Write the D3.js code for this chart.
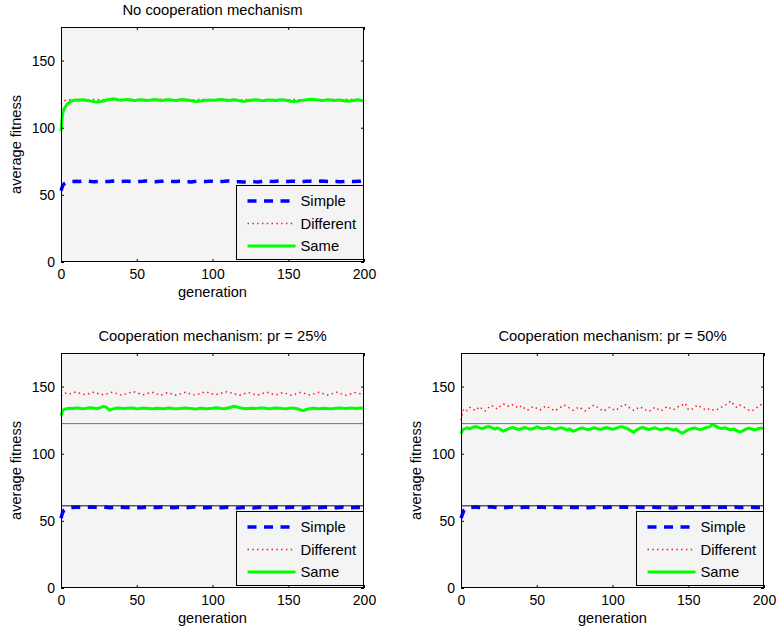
<!DOCTYPE html>
<html>
<head>
<meta charset="utf-8">
<script src="https://cdn.jsdelivr.net/npm/d3@7"></script>
<style>
  body { margin: 0; background: #fff; }
  svg { display: block; font-family: "Liberation Sans", Arial, Helvetica, sans-serif; }
  .tick text { font-size: 14px; fill: #000; }
  .tick line { stroke: #000; }
</style>
</head>
<body>
<div id="chart"></div>
<script>
// generation index of every sample
const gens = [0, 1, 2, 4, 6, 8, 10, 12, 14, 16, 18, 20, 22, 24, 26, 28, 30, 32, 34, 36,
  38, 40, 42, 44, 46, 48, 50, 52, 54, 56, 58, 60, 62, 64, 66, 68, 70, 72, 74, 76,
  78, 80, 82, 84, 86, 88, 90, 92, 94, 96, 98, 100, 102, 104, 106, 108, 110, 112, 114, 116,
  118, 120, 122, 124, 126, 128, 130, 132, 134, 136, 138, 140, 142, 144, 146, 148, 150, 152, 154, 156,
  158, 160, 162, 164, 166, 168, 170, 172, 174, 176, 178, 180, 182, 184, 186, 188, 190, 192, 194, 196,
  198, 200];

const seriesNames = ['Simple', 'Different', 'Same'];
const titles = ['No cooperation mechanism', 'Cooperation mechanism: pr = 25%', 'Cooperation mechanism: pr = 50%'];
const xTicks = [0, 50, 100, 150, 200];
const yTicks = [0, 50, 100, 150];

// no cooperation
const simple0 = [53.0, 56.5, 58.2, 59.4, 59.8, 60.0, 60.1, 59.9, 60.2, 60.3,
  60.1, 59.9, 59.8, 60.0, 60.2, 60.1, 59.9, 60.0, 60.3, 60.1,
  59.8, 59.9, 60.1, 60.2, 60.0, 59.7, 59.8, 60.0, 60.1, 60.3,
  60.2, 59.9, 59.8, 60.0, 60.1, 60.2, 60.4, 60.1, 59.9, 60.0,
  60.2, 60.3, 60.0, 59.8, 59.6, 59.9, 60.1, 60.2, 60.0, 59.9,
  60.1, 60.2, 60.0, 59.8, 60.0, 60.1, 60.3, 60.2, 59.9, 59.7,
  59.8, 59.6, 59.5, 59.8, 60.0, 59.7, 59.6, 59.9, 60.2, 60.3,
  60.1, 60.0, 60.2, 60.3, 60.1, 59.9, 60.0, 60.2, 60.1, 59.8,
  59.7, 59.9, 60.1, 60.2, 60.0, 59.9, 60.1, 60.3, 60.2, 60.0,
  59.9, 60.1, 60.0, 59.8, 59.9, 60.1, 60.2, 60.0, 59.9, 60.1,
  60.2, 60.0];
const different0 = [117.6, 119.1, 120.1, 120.6, 120.9, 121.1, 120.8, 121.0, 121.2, 120.9,
  120.6, 120.8, 121.1, 121.0, 120.7, 120.9, 121.2, 121.1, 120.8, 120.6,
  120.9, 121.0, 120.8, 121.1, 121.3, 120.9, 120.7, 120.8, 121.0, 121.1,
  120.9, 120.6, 120.8, 121.0, 121.2, 120.9, 120.8, 121.1, 121.0, 120.7,
  120.6, 120.9, 121.2, 121.0, 120.8, 120.7, 120.9, 121.1, 121.0, 120.8,
  120.6, 120.7, 121.0, 121.2, 120.9, 120.8, 121.0, 121.1, 120.9, 120.6,
  120.5, 120.8, 121.0, 120.9, 121.1, 121.2, 120.8, 120.7, 120.9, 121.0,
  120.8, 120.6, 120.9, 121.1, 121.2, 121.0, 120.8, 120.9, 121.1, 120.9,
  120.7, 120.8, 121.0, 121.3, 121.1, 120.9, 120.6, 120.8, 121.0, 120.9,
  121.1, 121.2, 121.0, 120.8, 120.7, 120.9, 121.2, 121.1, 120.8, 120.6,
  120.8, 121.0];
const same0 = [97.5, 110.0, 114.0, 117.5, 119.2, 120.3, 120.6, 120.4, 120.8, 120.5,
  120.2, 119.8, 119.4, 119.2, 119.5, 119.9, 120.6, 121.0, 121.5, 121.2,
  120.7, 120.4, 120.9, 121.1, 120.6, 120.3, 120.5, 120.8, 120.6, 120.2,
  120.4, 120.7, 121.0, 120.6, 120.3, 120.5, 120.8, 120.9, 120.5, 120.3,
  120.6, 121.0, 120.7, 120.4, 120.1, 119.7, 119.5, 119.8, 120.2, 120.5,
  120.7, 120.4, 120.6, 120.9, 121.1, 120.7, 120.3, 120.5, 120.8, 120.4,
  120.0, 119.6, 119.8, 120.2, 120.5, 120.8, 120.6, 120.3, 120.1, 120.4,
  120.7, 120.5, 120.2, 120.6, 120.9, 120.5, 120.1, 119.7, 119.5, 119.8,
  120.2, 120.5, 120.8, 121.0, 121.2, 120.9, 120.6, 120.3, 120.5, 120.8,
  120.6, 120.2, 120.4, 120.7, 120.3, 119.9, 119.7, 120.1, 120.5, 120.8,
  120.3, 120.0];

// pr = 25%
const simple25 = [52.0, 56.0, 58.0, 59.3, 59.8, 60.0, 60.2, 60.1, 59.9, 60.0,
  60.2, 60.3, 60.1, 59.9, 60.0, 60.2, 60.1, 59.8, 59.9, 60.1,
  60.3, 60.2, 60.0, 59.9, 60.1, 60.2, 60.0, 59.8, 59.9, 60.1,
  60.2, 60.1, 59.9, 60.0, 60.2, 60.3, 60.1, 60.0, 59.8, 59.9,
  60.1, 60.2, 60.0, 59.9, 60.1, 60.3, 60.2, 60.0, 59.8, 59.7,
  59.9, 60.1, 60.2, 60.0, 59.8, 59.9, 60.1, 60.0, 59.8, 59.6,
  59.7, 59.9, 60.0, 59.8, 59.6, 59.7, 59.9, 60.1, 59.9, 59.7,
  59.8, 60.0, 60.1, 59.9, 59.7, 59.8, 60.0, 60.2, 60.1, 59.9,
  59.7, 59.6, 59.8, 60.0, 60.1, 59.9, 59.8, 60.0, 60.2, 60.1,
  59.9, 59.7, 59.8, 60.0, 60.1, 59.9, 59.7, 59.8, 60.0, 60.1,
  59.9, 60.0];
const different25 = [143.0, 144.0, 144.8, 145.3, 144.6, 145.5, 146.0, 145.2, 144.3, 144.0,
  144.6, 145.4, 145.8, 145.0, 144.2, 143.8, 144.5, 145.3, 145.9, 145.1,
  144.4, 143.6, 144.2, 145.0, 145.6, 146.1, 145.4, 144.6, 143.9, 144.3,
  145.2, 145.8, 145.1, 144.2, 143.7, 144.5, 145.4, 145.0, 144.1, 143.5,
  144.3, 145.1, 145.7, 145.2, 144.4, 143.8, 144.0, 144.9, 145.6, 146.0,
  145.3, 144.5, 143.9, 144.4, 145.2, 145.9, 146.2, 145.4, 144.7, 144.0,
  143.6, 144.3, 145.1, 145.5, 144.8, 144.1, 143.7, 144.4, 145.3, 145.8,
  145.1, 144.3, 143.9, 144.6, 145.4, 145.0, 144.2, 143.6, 144.1, 144.9,
  145.6, 145.2, 144.5, 143.8, 144.2, 145.0, 145.7, 145.3, 144.4, 143.7,
  144.3, 145.1, 145.8, 145.0, 144.2, 143.5, 144.0, 144.8, 145.5, 145.1,
  144.6, 145.3];
const same25 = [128.5, 131.5, 133.0, 133.6, 133.9, 133.7, 134.0, 133.8, 133.5, 133.7,
  134.0, 134.2, 133.8, 133.6, 134.3, 135.2, 134.6, 132.4, 133.2, 133.9,
  134.1, 133.8, 133.6, 133.9, 134.1, 133.8, 133.5, 133.7, 134.0, 133.8,
  133.6, 133.4, 133.7, 133.9, 133.6, 133.5, 133.8, 134.0, 133.7, 133.5,
  133.6, 133.9, 134.1, 133.8, 133.6, 133.3, 133.5, 133.8, 133.6, 133.4,
  133.7, 133.9, 134.2, 134.0, 133.7, 133.5, 134.0, 134.6, 135.3, 134.8,
  134.2, 133.8, 133.5, 133.7, 133.9, 133.6, 133.8, 134.1, 134.0, 133.7,
  133.5, 133.8, 134.0, 133.9, 133.6, 133.4, 133.7, 134.0, 133.8, 133.5,
  132.6, 132.1, 132.9, 133.5, 133.8, 133.6, 133.4, 133.7, 133.9, 133.6,
  133.4, 133.6, 133.9, 134.1, 133.8, 133.6, 133.8, 134.0, 133.7, 133.9,
  134.0, 133.7];

// pr = 50%
const simple50 = [52.0, 55.0, 58.0, 59.5, 59.9, 60.1, 60.3, 60.0, 59.8, 60.1,
  60.3, 60.4, 60.1, 59.9, 59.6, 59.8, 60.0, 60.2, 60.3, 60.1,
  59.9, 60.0, 60.2, 60.1, 59.9, 60.0, 60.2, 60.3, 60.1, 59.9,
  60.0, 60.1, 60.2, 60.0, 59.9, 60.1, 60.3, 60.2, 60.0, 59.9,
  60.1, 60.2, 60.0, 59.8, 59.9, 60.1, 60.2, 60.0, 59.9, 60.0,
  60.2, 60.1, 59.9, 60.0, 60.2, 60.3, 60.1, 60.0, 59.9, 60.1,
  60.2, 60.0, 59.8, 59.9, 60.1, 60.2, 60.0, 59.9, 60.0, 60.1,
  59.8, 59.6, 59.9, 60.1, 60.2, 60.0, 59.9, 60.1, 60.2, 60.0,
  59.9, 60.1, 60.3, 60.2, 60.0, 59.9, 60.0, 60.2, 60.1, 59.9,
  60.0, 60.1, 60.2, 60.0, 59.9, 60.0, 60.2, 60.1, 60.0, 59.9,
  60.0, 60.1];
const different50 = [125.0, 131.0, 133.5, 132.0, 134.5, 133.0, 132.2, 135.0, 133.4, 131.8,
  134.2, 136.0, 134.8, 133.2, 135.5, 137.0, 136.2, 135.0, 136.5, 135.3,
  134.0, 135.8, 133.6, 132.4, 134.0, 135.2, 133.8, 132.5, 133.9, 135.6,
  134.3, 133.0, 131.8, 133.5, 134.8, 136.3, 135.1, 133.7, 132.3, 133.6,
  134.9, 133.2, 131.9, 133.4, 135.0, 136.4, 134.6, 133.1, 131.7, 133.0,
  134.5, 133.3, 132.1, 133.8, 135.5, 136.8, 135.2, 133.6, 132.2, 133.5,
  135.0, 133.8, 132.5, 131.4, 132.9, 134.6, 133.2, 131.9, 133.4, 135.1,
  134.0, 132.6, 133.9, 135.7, 136.2, 137.6, 133.0, 132.7, 134.4, 136.2,
  134.9, 133.5, 132.4, 133.6, 132.8, 132.3, 133.4, 134.8, 136.0, 137.2,
  139.3, 136.5, 134.6, 136.3, 135.1, 133.7, 132.5, 131.9, 133.2, 135.0,
  136.5, 137.4];
const same50 = [115.0, 117.2, 118.5, 119.3, 118.6, 119.8, 120.2, 119.4, 118.7, 119.5,
  120.3, 119.6, 118.4, 119.2, 118.2, 116.8, 117.9, 118.9, 119.6, 118.8,
  118.0, 118.7, 119.5, 118.9, 118.2, 118.8, 120.0, 119.3, 118.5, 119.0,
  119.6, 118.8, 118.1, 118.7, 119.4, 118.6, 117.8, 118.4, 116.8, 117.5,
  118.6, 119.2, 118.5, 117.9, 118.6, 119.3, 118.7, 118.1, 118.8, 119.5,
  118.9, 118.2, 118.8, 119.6, 120.2, 119.4, 118.6, 117.2, 115.9, 117.8,
  119.0, 119.6, 118.8, 118.0, 118.7, 119.3, 118.5, 117.8, 118.4, 119.1,
  118.4, 117.6, 118.2, 116.5, 115.2, 116.6, 117.9, 118.6, 119.2, 118.5,
  117.9, 118.7, 119.5, 120.0, 121.8, 120.6, 119.4, 118.7, 119.3, 118.6,
  117.8, 118.5, 117.2, 116.1, 117.0, 118.3, 119.0, 118.4, 117.7, 118.6,
  119.2, 118.4];

// horizontal reference levels drawn in the cooperation panels
const refLevels = [122.4, 61.2];
const refColors = ['#6e6e6e', '#111'];

const panels = [
  { title: titles[0], series: [simple0, different0, same0], refs: [] },
  { title: titles[1], series: [simple25, different25, same25], refs: refLevels },
  { title: titles[2], series: [simple50, different50, same50], refs: refLevels },
];

const layout = [
  { left: 61, top: 27 },
  { left: 61, top: 353 },
  { left: 461, top: 353 },
];
const plotW = 303, plotH = 235;

const styles = [
  { color: '#0000ff', width: 3.5, dash: '9,7.5' },
  { color: '#ff1a1a', width: 1.5, dash: '1.5,3.3' },
  { color: '#00ff00', width: 3, dash: null },
];

const svg = d3.select('#chart').append('svg')
  .attr('width', 776)
  .attr('height', 630);

panels.forEach((p, k) => {
  const { left, top } = layout[k];
  const x = d3.scaleLinear().domain([0, 200]).range([left, left + plotW]);
  const y = d3.scaleLinear().domain([0, 175]).range([top + plotH, top]);
  const g = svg.append('g');

  g.append('rect')
    .attr('x', left).attr('y', top)
    .attr('width', plotW).attr('height', plotH)
    .attr('fill', '#f4f4f4');

  const line = d3.line()
    .x((d, i) => x(gens[i]))
    .y(d => y(d));

  p.series.forEach((s, j) => {
    const st = styles[j];
    g.append('path')
      .datum(s)
      .attr('d', line)
      .attr('fill', 'none')
      .attr('stroke', st.color)
      .attr('stroke-width', st.width)
      .attr('stroke-dasharray', st.dash)
      .attr('stroke-linejoin', 'round');
  });

  g.selectAll('line.ref')
    .data(p.refs)
    .enter()
    .append('line')
    .attr('class', 'ref')
    .attr('x1', x(0)).attr('x2', x(200))
    .attr('y1', d => y(d)).attr('y2', d => y(d))
    .attr('stroke', (d, i) => refColors[i])
    .attr('stroke-width', 1);

  // axes, ticks pointing inward
  const xAxis = d3.axisBottom(x).tickValues(xTicks).tickSize(-3).tickPadding(7);
  const yAxis = d3.axisLeft(y).tickValues(yTicks).tickSize(-3).tickPadding(6);
  g.append('g').attr('transform', `translate(0,${top + plotH})`).call(xAxis);
  g.append('g').attr('transform', `translate(${left},0)`).call(yAxis);
  g.append('g').attr('transform', `translate(0,${top})`)
    .call(d3.axisTop(x).tickValues(xTicks).tickSize(-3).tickFormat(''));
  g.append('g').attr('transform', `translate(${left + plotW},0)`)
    .call(d3.axisRight(y).tickValues(yTicks).tickSize(-3).tickFormat(''));
  g.selectAll('.domain').remove();

  g.append('rect')
    .attr('x', left + 0.5).attr('y', top + 0.5)
    .attr('width', plotW - 1).attr('height', plotH - 1)
    .attr('fill', 'none')
    .attr('stroke', '#000');

  // legend
  const lx = left + 175.5, ly = top + plotH - 76.5;
  const leg = g.append('g').attr('transform', `translate(${lx},${ly})`);
  leg.append('rect')
    .attr('width', 127).attr('height', 74)
    .attr('fill', '#f4f4f4')
    .attr('stroke', '#000');
  seriesNames.forEach((name, j) => {
    const st = styles[j];
    const ry = 15.5 + j * 22.5;
    leg.append('line')
      .attr('x1', 11).attr('x2', 59)
      .attr('y1', ry).attr('y2', ry)
      .attr('stroke', st.color)
      .attr('stroke-width', st.width)
      .attr('stroke-dasharray', st.dash);
    leg.append('text')
      .attr('x', 64).attr('y', ry)
      .attr('dy', '0.35em')
      .attr('font-size', 14.8)
      .text(name);
  });

  // labels
  g.append('text')
    .attr('x', left + plotW / 2).attr('y', top - 12)
    .attr('text-anchor', 'middle')
    .attr('font-size', 14.8)
    .text(p.title);
  g.append('text')
    .attr('x', left + plotW / 2).attr('y', top + plotH + 35)
    .attr('text-anchor', 'middle')
    .attr('font-size', 14.6)
    .text('generation');
  g.append('text')
    .attr('transform', `translate(${left - 40},${top + plotH / 2}) rotate(-90)`)
    .attr('text-anchor', 'middle')
    .attr('font-size', 14.6)
    .text('average fitness');
});
</script>
</body>
</html>
